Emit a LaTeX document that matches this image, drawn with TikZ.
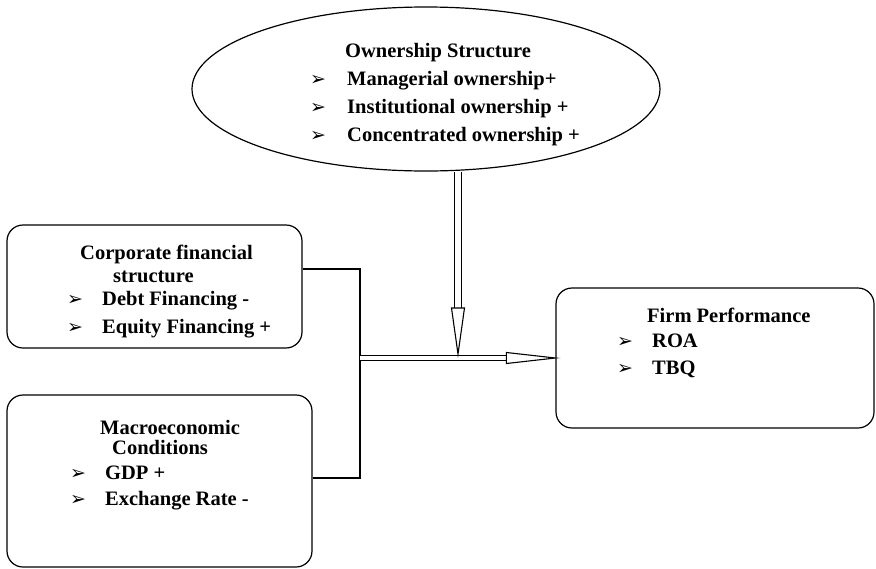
\documentclass[tikz,border=0pt]{standalone}
\usepackage{fontspec}
\setmainfont{Liberation Serif}
\newfontfamily\dingfont{DejaVu Sans}
\usetikzlibrary{shapes.geometric,calc}
\newcommand{\bul}[1][35pt]{\makebox[#1][l]{\dingfont\fontsize{19}{19}\selectfont ➢}}

\begin{document}
\begin{tikzpicture}[x=1pt,y=-1pt,
  box/.style={rectangle,rounded corners=16pt,draw=black,line width=1.2pt},
  txt/.style={anchor=base west,inner sep=0pt,font=\fontsize{20.5}{28}\selectfont\bfseries},
  link/.style={line width=1.2pt},
  shaft/.style={double,double distance=4.5pt,line width=1.1pt},
  head/.style={fill=white,line width=1.1pt,line join=miter}]
\useasboundingbox (0,0) rectangle (876,568);
% \draw[help lines,step=50] (0,0) grid (876,568);
\node (own) [ellipse,draw=black,line width=1.2pt,minimum width=468pt,minimum height=164pt] at (426,89) {};
\node (corp) [box,minimum width=295pt,minimum height=123pt] at (154.5,286.5) {};
\node (macro) [box,minimum width=305pt,minimum height=172pt] at (159.5,481) {};
\node (firm) [box,minimum width=318pt,minimum height=140pt] at (715,358) {};
%
\node (owntxt) [txt] at (310,57) {\begin{tabular}[t]{@{}l@{}}
  \hspace*{35pt}Ownership Structure\\
  \bul[37pt]Managerial ownership+\\
  \bul[37pt]Institutional ownership +\\
  \bul[37pt]Concentrated ownership +
\end{tabular}};
\node (corptxt) [txt] at (67,259) {\begin{tabular}[t]{@{}l@{}}
  \hspace*{13pt}Corporate financial\\[-5pt]
  \hspace*{46pt}structure\\[-5pt]
  \bul Debt Financing -\\
  \bul Equity Financing +
\end{tabular}};
\node (macrotxt) [txt] at (70,434) {\begin{tabular}[t]{@{}l@{}}
  \hspace*{30pt}Macroeconomic\\[-8pt]
  \hspace*{42pt}Conditions\\[-3pt]
  \bul GDP +\\[-2pt]
  \bul Exchange Rate -
\end{tabular}};
\node (firmtxt) [txt] at (617,322) {\begin{tabular}[t]{@{}l@{}}
  \hspace*{30pt}Firm Performance\\[-3pt]
  \bul ROA\\[-1pt]
  \bul TBQ
\end{tabular}};
%
\coordinate (jt) at (360,269);
\coordinate (jb) at (360,478);
\coordinate (jm) at (360,358);
\draw[link] (jt -| corp.east) -- (jt) -- (jb) -- (jb -| macro.east);
% horizontal arrow
\coordinate (hb) at ($(firm.west)+(-49,0)$);
\draw[shaft] (jm) -- (hb);
\draw[head] ($(hb)+(0,-5.5)$) -- (firm.west) -- ($(hb)+(0,5.5)$) -- cycle;
% vertical arrow
\coordinate (vb) at (458,308);
\coordinate (vtip) at ($(jm -| vb)+(0,-4)$);
\draw[shaft,double distance=5.5pt] (own.south -| vb) -- (vb);
\draw[head] ($(vb)+(-6.5,0)$) -- (vtip) -- ($(vb)+(6.5,0)$) -- cycle;
\end{tikzpicture}
\end{document}
